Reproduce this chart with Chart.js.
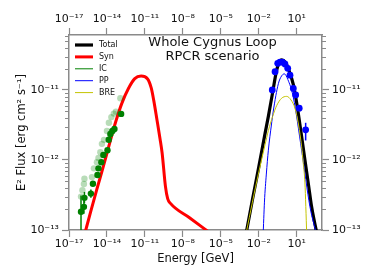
<!DOCTYPE html>
<html>
<head>
<meta charset="utf-8">
<script src="https://cdn.jsdelivr.net/npm/chart.js@4.4.1/dist/chart.umd.min.js"></script>
<style>
  html, body { margin: 0; padding: 0; background: #fff; }
  #wrap { width: 374px; height: 280px; }
</style>
</head>
<body>
<div id="wrap"><canvas id="c" width="374" height="280"></canvas></div>
<script>
// Axis ticks
const xTicks = [1e-17, 1e-14, 1e-11, 1e-8, 1e-5, 1e-2, 1e1];
const yTicks = [1e-13, 1e-12, 1e-11];
const yMinor = [2e-13, 3e-13, 4e-13, 5e-13, 6e-13, 7e-13, 8e-13, 9e-13,
                2e-12, 3e-12, 4e-12, 5e-12, 6e-12, 7e-12, 8e-12, 9e-12,
                2e-11, 3e-11, 4e-11, 5e-11, 6e-11];

// Model curves (E [GeV], E^2 flux)
const synE = [1.78e-16, 5.0e-16, 1.58e-15, 5.0e-15, 1.58e-14, 5.0e-14, 1.58e-13, 5.0e-13, 1.58e-12, 5.0e-12,
              1.58e-11, 3.16e-11, 5.0e-11, 9.1e-11, 1.58e-10, 2.3e-10, 4.2e-10, 6.3e-10, 1.05e-9, 3.16e-8, 1.0e-6];
const synF = [8.9e-14, 1.78e-13, 3.8e-13, 7.9e-13, 1.7e-12, 3.55e-12, 6.6e-12, 1.05e-11, 1.45e-11, 1.58e-11,
              1.45e-11, 1.07e-11, 7.1e-12, 3.7e-12, 2.0e-12, 1.26e-12, 4.2e-13, 2.8e-13, 2.4e-13, 1.51e-13, 9.5e-14];

const totE = [1.0e-3, 3.16e-3, 1.0e-2, 3.16e-2, 5.75e-2, 0.126, 0.251, 0.398, 0.646, 1.26,
              2.14, 5.37, 10, 20, 44.7, 89, 151, 251, 398];
const totF = [8.9e-14, 2.7e-13, 7.9e-13, 2.4e-12, 4.2e-12, 9.3e-12, 1.86e-11, 2.45e-11, 2.7e-11, 2.5e-11,
              2.04e-11, 1.2e-11, 6.5e-12, 2.8e-12, 1.0e-12, 4.2e-13, 2.14e-13, 1.32e-13, 8.9e-14];

const icE = [];
const icF = [];

const ppE = [0.0219, 0.0282, 0.0398, 0.0575, 0.1, 0.141, 0.355, 0.631, 1.05, 2.0, 5.37, 24.5, 112, 398];
const ppF = [7.9e-14, 2.5e-13, 6.3e-13, 1.38e-12, 3.16e-12, 5.0e-12, 1.23e-11, 1.58e-11, 1.7e-11, 1.41e-11,
             7.9e-12, 1.38e-12, 2.14e-13, 8.3e-14];

const breE = [1.0e-3, 3.16e-3, 9.3e-3, 0.0316, 0.0575, 0.126, 0.263, 0.631, 1.62, 3.55, 7.24, 14.1, 24.5, 33.1, 44.7, 61.7];
const breF = [8.9e-14, 2.5e-13, 6.3e-13, 1.66e-12, 2.63e-12, 4.2e-12, 6.0e-12, 7.6e-12, 8.1e-12, 7.2e-12,
              5.5e-12, 3.16e-12, 1.55e-12, 8.9e-13, 4.7e-13, 8.9e-14];

// Radio data (dark = used, light = faded)
const radE = [8.9e-17, 1.51e-16, 1.66e-16, 5.37e-16, 7.8e-16, 1.78e-15, 2.14e-15, 3.6e-15, 5.2e-15, 1.1e-14,
              1.38e-14, 1.86e-14, 2.7e-14, 3.9e-14, 1.32e-13];
const radF = [1.82e-13, 2.14e-13, 2.88e-13, 3.31e-13, 4.57e-13, 6.1e-13, 7.6e-13, 9.3e-13, 1.18e-12, 1.38e-12,
              1.95e-12, 2.35e-12, 2.6e-12, 2.78e-12, 4.55e-12];
const radLo = [9.0e-14, 1.7e-13, 2.4e-13, 2.9e-13, null, null, null, null, null, null, null, null, null, null, null];
const radHi = [3.1e-13, 2.7e-13, 3.5e-13, 3.8e-13, null, null, null, null, null, null, null, null, null, null, null];

const radLightE = [8.9e-17, 1.15e-16, 1.51e-16, 1.66e-16, 6.5e-16, 9.3e-16, 1.62e-15, 2.14e-15, 3.0e-15, 4.0e-15,
                   5.8e-15, 1.0e-14, 1.42e-14, 2.23e-14, 3.5e-14, 5.1e-14, 1.15e-13];
const radLightF = [3.0e-13, 3.7e-13, 4.55e-13, 5.4e-13, 5.7e-13, 7.6e-13, 9.3e-13, 1.07e-12, 1.29e-12, 1.7e-12,
                   1.94e-12, 2.6e-12, 3.4e-12, 4.1e-12, 4.6e-12, 4.9e-12, 7.6e-12];

// Fermi-LAT data
const latE = [0.117, 0.195, 0.316, 0.48, 0.72, 1.17, 1.95, 2.95, 5.4, 8.3, 15.8, 51];
const latF = [1.0e-11, 1.82e-11, 2.4e-11, 2.5e-11, 2.5e-11, 2.35e-11, 2.04e-11, 1.63e-11, 1.05e-11, 8.5e-12, 5.5e-12, 2.7e-12];
const latLo = [null, null, null, null, null, null, null, null, null, null, null, 1.9e-12];
const latHi = [null, null, null, null, null, null, null, null, null, null, null, 3.4e-12];

const legendOrder = ['Total', 'Syn', 'IC', 'PP', 'BRE'];

const pts = (xs, ys) => xs.map((x, i) => ({ x, y: ys[i] }));
const SUP = { '-': '\u207B', '0': '\u2070', '1': '\u00B9', '2': '\u00B2', '3': '\u00B3', '4': '\u2074',
              '5': '\u2075', '6': '\u2076', '7': '\u2077', '8': '\u2078', '9': '\u2079' };
const pow10 = (v) => '10' + String(Math.round(Math.log10(v))).split('').map((c) => SUP[c]).join('');

const TXT = '#111';
const SPINE = '#8a8a8a';
Chart.defaults.font.family = "'DejaVu Sans', sans-serif";

const line = (label, xs, ys, color, width) => ({
  type: 'line', label, data: pts(xs, ys), borderColor: color, backgroundColor: color,
  borderWidth: width, pointRadius: 0, fill: false, cubicInterpolationMode: 'monotone', showLine: true,
});
const dots = (label, xs, ys, color, r, lo, hi) => ({
  type: 'scatter', label, data: pts(xs, ys), backgroundColor: color, borderColor: color,
  borderWidth: 0, pointRadius: r, errLo: lo, errHi: hi,
});

// vertical error bars, drawn through the scales
const errPlugin = {
  id: 'err',
  afterDatasetsDraw(chart) {
    const { ctx, scales: { x, y } } = chart;
    ctx.save();
    ctx.beginPath();
    ctx.rect(chart.chartArea.left, chart.chartArea.top, chart.chartArea.width, chart.chartArea.height);
    ctx.clip();
    chart.data.datasets.forEach((ds) => {
      if (!ds.errLo) return;
      ctx.strokeStyle = ds.borderColor;
      ctx.lineWidth = 1.5;
      ds.data.forEach((p, i) => {
        if (ds.errLo[i] == null) return;
        const px = x.getPixelForValue(p.x);
        ctx.beginPath();
        ctx.moveTo(px, y.getPixelForValue(ds.errLo[i]));
        ctx.lineTo(px, y.getPixelForValue(ds.errHi[i]));
        ctx.stroke();
      });
    });
    ctx.restore();
  },
};

// minor y ticks on both spines, legend and in-plot title
const decorPlugin = {
  id: 'decor',
  afterDraw(chart) {
    const { ctx, chartArea: a, scales: { y } } = chart;
    ctx.save();
    ctx.strokeStyle = SPINE;
    ctx.lineWidth = 1;
    yMinor.forEach((v) => {
      const py = Math.round(y.getPixelForValue(v)) + 0.5;
      ctx.beginPath();
      ctx.moveTo(a.left - 4, py); ctx.lineTo(a.left, py);
      ctx.moveTo(a.right, py); ctx.lineTo(a.right + 4, py);
      ctx.stroke();
    });

    ctx.font = "8px 'DejaVu Sans'";
    ctx.textBaseline = 'middle';
    ctx.textAlign = 'left';
    legendOrder.forEach((lab, i) => {
      const ds = chart.data.datasets.find((d) => d.label === lab);
      const ly = 45 + i * 11.9;
      ctx.strokeStyle = ds.borderColor;
      ctx.lineWidth = ds.borderWidth;
      ctx.beginPath(); ctx.moveTo(75, ly); ctx.lineTo(93, ly); ctx.stroke();
      ctx.fillStyle = TXT;
      ctx.fillText(lab, 99, ly);
    });

    ctx.font = "13px 'DejaVu Sans'";
    ctx.textAlign = 'center';
    ctx.fillText('Whole Cygnus Loop', 212.5, 43);
    ctx.fillText('RPCR scenario', 212.5, 57);
    ctx.restore();
  },
};

const axisBase = (pos, min, max, ticks, size, pad) => ({
  type: 'logarithmic', position: pos, min, max,
  afterBuildTicks: (s) => { s.ticks = ticks.map((v) => ({ value: v })); },
  afterFit: (s) => { if (pos === 'top' || pos === 'bottom') s.height = size; else s.width = size; },
  ticks: { callback: (v) => pow10(v), color: TXT, font: { size: 11 }, padding: pad, autoSkip: false, maxRotation: 0 },
  grid: { drawOnChartArea: false, drawTicks: true, tickLength: 7, tickColor: SPINE, tickWidth: 1.2 },
  border: { color: SPINE, width: 1.5 },
});

const scales = {
  x: axisBase('bottom', 1e-17, 1e3, xTicks, 50, 1),
  x2: axisBase('top', 1e-17, 1e3, xTicks, 35, 2),
  y: axisBase('left', 1e-13, 6.1e-11, yTicks, 69, 3),
  y2: axisBase('right', 1e-13, 6.1e-11, yTicks, 52, 3),
};
scales.x.title = { display: true, text: 'Energy [GeV]', color: TXT, font: { size: 11.5 }, padding: { top: 0, bottom: 14 } };
scales.y.title = { display: true, text: 'E\u00B2 Flux [erg cm\u00B2 s\u207B\u00B9]', color: TXT, font: { size: 11.5 }, padding: { top: 15, bottom: 0 } };

new Chart(document.getElementById('c'), {
  data: {
    // first dataset is drawn on top
    datasets: [
      dots('LAT', latE, latF, '#0000ff', 3.4, latLo, latHi),
      dots('Radio', radE, radF, '#008000', 3.2, radLo, radHi),
      dots('Radio (faded)', radLightE, radLightF, 'rgba(0,128,0,0.28)', 3.2),
      line('BRE', breE, breF, '#c4c400', 1),
      line('PP', ppE, ppF, '#0000ff', 1),
      line('IC', icE, icF, '#008000', 1),
      line('Syn', synE, synF, '#ff0000', 3),
      line('Total', totE, totF, '#000000', 3.2),
    ],
  },
  options: {
    responsive: false, animation: false, devicePixelRatio: 1,
    layout: { padding: 0 },
    plugins: { legend: { display: false }, tooltip: { enabled: false } },
    scales,
  },
  plugins: [errPlugin, decorPlugin],
});
</script>
</body>
</html>
